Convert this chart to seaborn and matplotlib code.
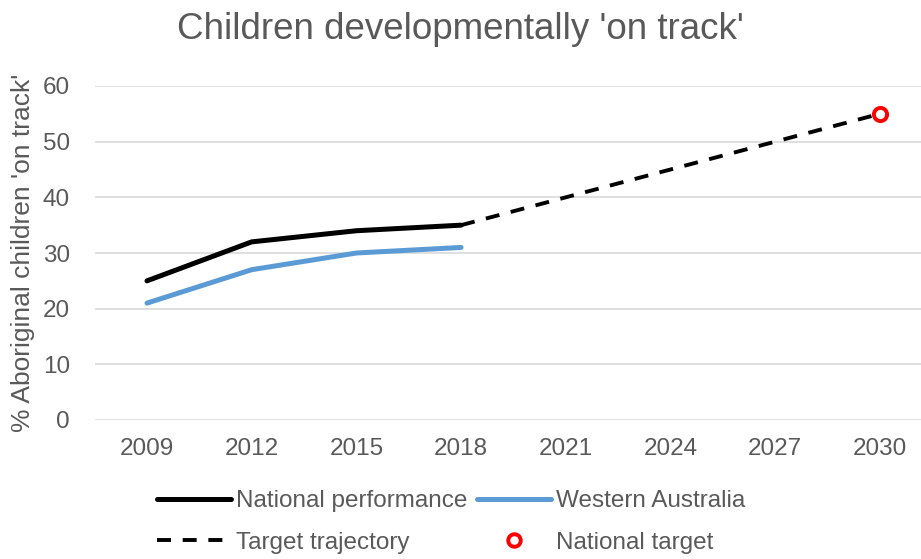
import pandas as pd
import seaborn as sns
import matplotlib.pyplot as plt
from matplotlib.lines import Line2D

# Data
years_actual = [2009, 2012, 2015, 2018]
national = [25, 32, 34, 35]
western_australia = [21, 27, 30, 31]
years_target = [2018, 2021, 2024, 2027, 2030]
target_traj = [35, 40, 45, 50, 55]
target_year = [2030]
target_value = [55]
tick_years = [2009, 2012, 2015, 2018, 2021, 2024, 2027, 2030]

df_nat = pd.DataFrame({'year': years_actual, 'value': national})
df_wa = pd.DataFrame({'year': years_actual, 'value': western_australia})
df_tgt = pd.DataFrame({'year': years_target, 'value': target_traj})
df_pt = pd.DataFrame({'year': target_year, 'value': target_value})

sns.set_style('white')
plt.rcParams['font.family'] = ['Liberation Sans', 'DejaVu Sans']
grey = '#595959'
dash = (0, (3.6, 3))

fig = plt.figure(figsize=(9.21, 5.59), dpi=100)
ax = fig.add_axes([95 / 921, 1 - 420 / 559, 826 / 921, 334 / 559])

sns.lineplot(data=df_nat, x='year', y='value', ax=ax, color='black', lw=3.6)
sns.lineplot(data=df_wa, x='year', y='value', ax=ax, color='#5B9BD5', lw=3.6)
sns.lineplot(data=df_tgt, x='year', y='value', ax=ax, color='black', lw=2.8,
             linestyle=dash)
sns.scatterplot(data=df_pt, x='year', y='value', ax=ax, s=90, facecolor='white',
                edgecolor='#FF0000', linewidth=2.8, zorder=5)

ax.set_xlim(2007.51, 2031.18)
ax.set_ylim(0, 60)
ax.set_xticks(tick_years)
ax.set_yticks(range(0, 61, 10))
ax.grid(axis='y', color='#D9D9D9', lw=1.2)
ax.set_axisbelow(True)
for s in ax.spines.values():
    s.set_visible(False)
ax.tick_params(axis='both', length=0, labelsize=17.5, colors=grey)
ax.tick_params(axis='x', pad=13)
ax.tick_params(axis='y', pad=18)
ax.set_xlabel('')
ax.set_ylabel("% Aboriginal children 'on track'", fontsize=19, color=grey, labelpad=6)

fig.text(0.5, 0.947, "Children developmentally 'on track'", ha='center', va='center',
         fontsize=26.5, color=grey)

handles = [
    Line2D([], [], color='black', lw=3.6),
    Line2D([], [], color='black', lw=2.8, linestyle=dash),
    Line2D([], [], color='#5B9BD5', lw=3.6),
    Line2D([], [], color='none', marker='o', markersize=9, markerfacecolor='white',
           markeredgecolor='#FF0000', markeredgewidth=2.8),
]
labels = ['National performance', 'Target trajectory', 'Western Australia', 'National target']
fig.legend(handles, labels, ncol=2, loc='center', bbox_to_anchor=(0.49, 0.066),
           frameon=False, fontsize=17.5, labelcolor=grey, handlelength=3.05,
           handletextpad=0.2, columnspacing=0.4, labelspacing=0.8)

fig.savefig('out.png', dpi=100)
